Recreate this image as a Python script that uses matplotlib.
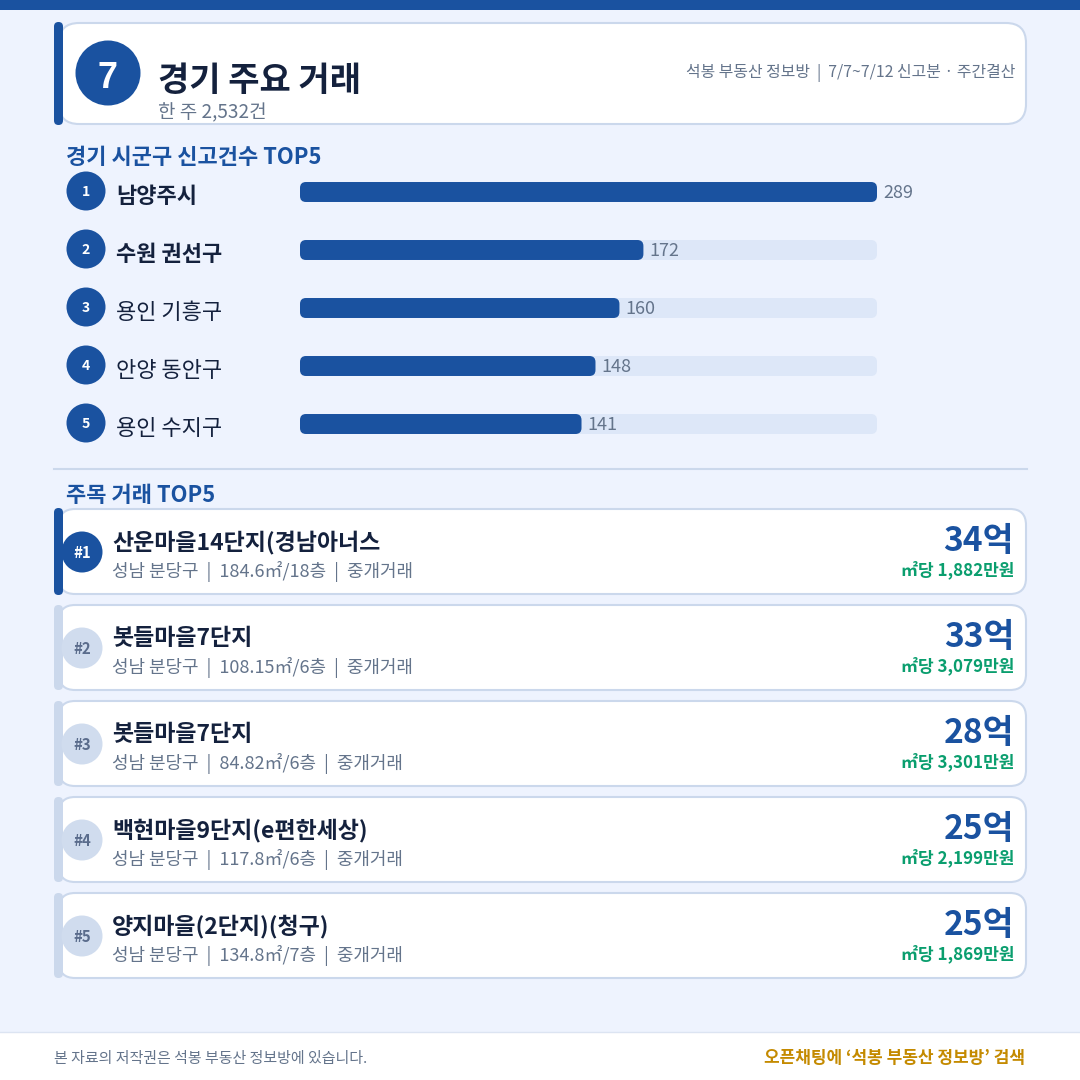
import matplotlib
matplotlib.use("Agg")
import matplotlib.pyplot as plt
from matplotlib.patches import FancyBboxPatch, Circle, Rectangle

plt.rcParams['font.family'] = ['Noto Sans CJK KR', 'DejaVu Sans']

districts = ['남양주시', '수원 권선구', '용인 기흥구', '안양 동안구', '용인 수지구']
counts = [289, 172, 160, 148, 141]
deal_names = ['산운마을14단지(경남아너스', '봇들마을7단지', '봇들마을7단지', '백현마을9단지(e편한세상)', '양지마을(2단지)(청구)']
deal_subs = ['성남 분당구  |  184.6㎡/18층  |  중개거래', '성남 분당구  |  108.15㎡/6층  |  중개거래',
             '성남 분당구  |  84.82㎡/6층  |  중개거래', '성남 분당구  |  117.8㎡/6층  |  중개거래',
             '성남 분당구  |  134.8㎡/7층  |  중개거래']
deal_prices = ['34억', '33억', '28억', '25억', '25억']
deal_unit = ['㎡당 1,882만원', '㎡당 3,079만원', '㎡당 3,301만원', '㎡당 2,199만원', '㎡당 1,869만원']

BG = '#EEF3FE'; BLUE = '#1A52A0'; BORDER = '#CBD8EC'; TRACK = '#DDE7F8'
DARK = '#14213D'; GREY = '#64748B'; GREEN = '#0A9E6E'; GOLD = '#C48A00'
PX = 0.72

fig = plt.figure(figsize=(10.8, 10.8), dpi=100, facecolor=BG)
ax = fig.add_axes([0, 0, 1, 1])
ax.set_xlim(0, 1080); ax.set_ylim(1080, 0); ax.axis('off')


def rbox(x0, y0, x1, y1, r, fc, ec='none', lw=0, z=2, a=ax):
    a.add_patch(FancyBboxPatch((x0 + r, y0 + r), x1 - x0 - 2 * r, y1 - y0 - 2 * r,
                               boxstyle=f'round,pad={r},rounding_size={r}', fc=fc, ec=ec, lw=lw, zorder=z))


def t(x, y, s, px, c, w='normal', ha='left', z=6, family=None):
    ax.text(x, y, s, fontsize=px * PX, color=c, fontweight=w, ha=ha, va='baseline', zorder=z, family=family)


# top band and footer
ax.add_patch(Rectangle((0, 0), 1080, 10, fc=BLUE, ec='none', zorder=1))
ax.add_patch(Rectangle((0, 1032), 1080, 48, fc='white', ec='none', zorder=1))
ax.plot([0, 1080], [1032, 1032], color='#DCE4F2', lw=1, zorder=2)

# header card
rbox(59, 23, 1026, 124, 20, 'white', BORDER, 1.5)
rbox(54, 22, 63, 125, 4.5, BLUE, z=3)
ax.add_patch(Circle((108, 73), 32.5, fc=BLUE, ec='none', zorder=4))
t(107.5, 88, '7', 36, 'white', 'bold', 'center', family='Liberation Sans')
t(158, 91, '경기 주요 거래', 34, DARK, 'bold')
t(158, 118, '한 주 2,532건', 19, GREY)
t(1015.5, 77, '석봉 부동산 정보방  |  7/7~7/12 신고분 · 주간결산', 15.9, GREY, ha='right')

# district ranking
t(66, 164, '경기 시군구 신고건수 TOP5', 22, BLUE, 'bold')
bar_ax = fig.add_axes([300 / 1080, 0, 577 / 1080, 1], zorder=3)
bar_ax.set_xlim(0, 289); bar_ax.set_ylim(1080, 0); bar_ax.axis('off'); bar_ax.patch.set_alpha(0)
unit = 577 / 289
for i, (name, cnt) in enumerate(zip(districts, counts)):
    cy = 192 + 58 * i
    for right, col, z in ((counts[0], TRACK, 2), (cnt, BLUE, 3)):
        bar_ax.add_patch(FancyBboxPatch((3, cy - 4), right - 6, 8,
                                        boxstyle='round,pad=3,rounding_size=3', mutation_aspect=unit,
                                        fc=col, ec='none', zorder=z))
    bar_ax.annotate(str(cnt), (cnt, cy + 6), xytext=(4.5, 0), textcoords='offset points',
                    fontsize=18 * PX, color=GREY, ha='left', va='baseline', annotation_clip=False)
    ax.add_patch(Circle((86, cy - 1), 19.5, fc=BLUE, ec='none', zorder=4))
    t(86, cy + 4, str(i + 1), 14, 'white', 'bold', 'center')
    t(116, cy + 11, name, 22, DARK, 'bold' if i < 2 else 'normal')

ax.plot([54, 1027], [469, 469], color=BORDER, lw=1.5, zorder=2)
t(66, 502, '주목 거래 TOP5', 22, BLUE, 'bold')

# deal cards
for i in range(5):
    y0 = 509 + 96 * i
    first = i == 0
    rbox(59, y0, 1026, y0 + 85, 16, 'white', BORDER, 1.5)
    rbox(54, y0 - 1 if first else y0, 63, y0 + 86 if first else y0 + 85, 4.5, BLUE if first else BORDER, z=3)
    ax.add_patch(Circle((82, y0 + 43), 20.5, fc=BLUE if first else '#D0DCEE', ec='none', zorder=4))
    t(82, y0 + 49, f'#{i + 1}', 15, 'white' if first else '#5A6C8C', 'bold', 'center')
    t(112, y0 + 40, deal_names[i], 23, DARK, 'bold')
    t(112, y0 + 68, deal_subs[i], 18, GREY)
    t(1014, y0 + 42, deal_prices[i], 33.5, BLUE, 'bold', 'right')
    t(1014.5, y0 + 66, deal_unit[i], 17, GREEN, 'bold', 'right')

# footer
t(54, 1063, '본 자료의 저작권은 석봉 부동산 정보방에 있습니다.', 15, GREY)
t(1025, 1063, '오픈채팅에 ‘석봉 부동산 정보방’ 검색', 17, GOLD, 'bold', 'right')

fig.savefig('out.png', dpi=100, facecolor=BG)
